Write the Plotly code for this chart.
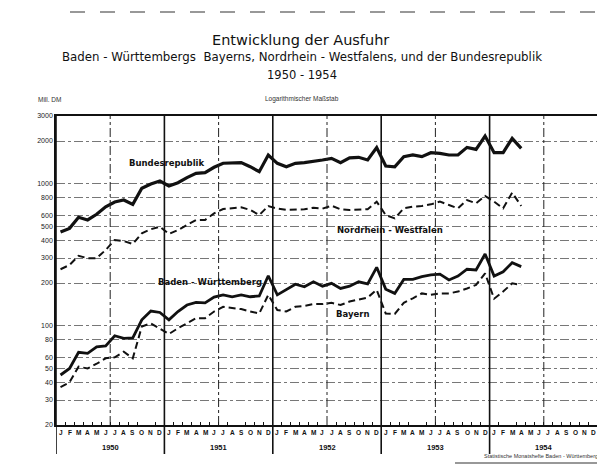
import math
import plotly.graph_objects as go

# ---------------- data (Mill. DM per month, Jan 1950 - Apr 1954) ----------------
month_letters = ["J", "F", "M", "A", "M", "J", "J", "A", "S", "O", "N", "D"]
years = ["1950", "1951", "1952", "1953", "1954"]

bundesrepublik = [457, 485, 581, 556, 610, 689, 744, 769, 716, 929, 996, 1046,
                  964, 1017, 1104, 1184, 1197, 1306, 1394, 1408, 1408, 1318, 1216, 1594,
                  1393, 1318, 1393, 1408, 1430, 1470, 1510, 1408, 1520, 1535, 1470, 1796,
                  1334, 1318, 1552, 1594, 1552, 1655, 1637, 1594, 1594, 1804, 1746, 2168,
                  1655, 1655, 2089, 1776]
nordrhein_westfalen = [250, 268, 311, 299, 299, 342, 402, 395, 376, 448, 478, 499,
                       443, 472, 512, 556, 556, 619, 664, 671, 682, 654, 602, 697,
                       668, 654, 654, 661, 678, 668, 701, 661, 654, 654, 661, 748,
                       602, 570, 671, 690, 697, 716, 748, 709, 671, 768, 728, 820,
                       748, 671, 865, 697]
baden_wuerttemberg = [45, 50, 65, 64, 71, 72, 85, 81.5, 82, 110, 127, 124,
                      110, 126, 140, 146, 145, 159, 165, 160, 165, 160, 162, 225,
                      165, 179, 196, 188, 204, 190, 199, 183, 190, 204, 197, 258,
                      181, 169, 212, 212, 222, 228, 231, 210, 224, 250, 247, 320,
                      224, 240, 278, 261]
bayern = [37, 40, 51.5, 50, 54, 59, 60, 65.6, 59, 98.7, 104, 96,
          87.5, 96, 104, 113, 113, 126, 136, 133, 131, 126, 122, 165,
          129, 126, 136, 138, 142, 142, 145, 140, 148, 153, 158, 179,
          122, 121, 145, 156, 169, 165, 169, 169, 174, 183, 194, 234,
          155, 174, 199, 194]

y_tick_values = [20, 30, 40, 50, 60, 80, 100, 200, 300, 400, 500, 600, 800, 1000, 2000, 3000]
y_tick_labels = ["20", "30", "40", "50", "60", "80", "100", "200", "300", "400", "500",
                 "600", "800", "1000", "2000", "3000"]

series_labels = ["Bundesrepublik", "Nordrhein - Westfalen", "Baden - Württemberg", "Bayern"]

# ---------------- layout geometry (page pixels; page body has an 8px margin) ----------------
W, H = 605, 466
BODY = 8
PLOT_L, PLOT_R, PLOT_T, PLOT_B = 56, 598, 116, 425
FONT = "DejaVu Sans, Liberation Sans, Arial"
SMALL = "Liberation Sans, DejaVu Sans, Arial"
PW = PLOT_R - PLOT_L
PH = PLOT_B - PLOT_T


def px(xpix):
    return (xpix - PLOT_L) / PW


def py(ypix):
    return (PLOT_B - ypix) / PH


n_months = len(years) * 12
x_vals = [i + 0.5 for i in range(len(bundesrepublik))]

fig = go.Figure()
styles = [
    (bundesrepublik, "solid", 3.2),
    (nordrhein_westfalen, "7px,4px", 2.0),
    (baden_wuerttemberg, "solid", 2.8),
    (bayern, "7px,4px", 2.0),
]
for (vals, dash, w), name in zip(styles, series_labels):
    fig.add_trace(go.Scatter(x=x_vals, y=vals, mode="lines", name=name,
                             line=dict(color="#111", width=w, dash=dash),
                             showlegend=False, hoverinfo="skip"))

shapes = []
for k in range(1, len(years)):
    shapes.append(dict(type="line", xref="x", yref="paper", x0=12 * k, x1=12 * k,
                       y0=py(454), y1=1, line=dict(color="#111", width=1.6)))
for xv in (0, n_months):
    shapes.append(dict(type="line", xref="x", yref="paper", x0=xv, x1=xv,
                       y0=py(454), y1=1, line=dict(color="#111", width=1.6)))
for k in range(len(years)):
    shapes.append(dict(type="line", xref="x", yref="paper", x0=12 * k + 6, x1=12 * k + 6,
                       y0=0, y1=1, line=dict(color="#222", width=1, dash="dashdot")))
shapes.append(dict(type="line", xref="paper", yref="paper", x0=px(70), x1=px(605),
                   y0=py(12), y1=py(12), line=dict(color="#333", width=1.2, dash="longdash")))
shapes.append(dict(type="line", xref="paper", yref="paper", x0=px(455), x1=px(605),
                   y0=py(463), y1=py(463), line=dict(color="#333", width=1.2)))

annotations = []
annotations.append(dict(text="Entwicklung der Ausfuhr", xref="paper", yref="paper",
                        x=px(300), y=py(40), yanchor="middle", showarrow=False,
                        font=dict(family=FONT, size=14.5, color="#111")))
annotations.append(dict(text="Baden - Württembergs  Bayerns, Nordrhein - Westfalens, und der Bundesrepublik",
                        xref="paper", yref="paper", x=px(302), y=py(57), yanchor="middle", showarrow=False,
                        font=dict(family=FONT, size=11.8, color="#111")))
annotations.append(dict(text="1950 - 1954", xref="paper", yref="paper",
                        x=px(302), y=py(75), yanchor="middle", showarrow=False,
                        font=dict(family=FONT, size=11.5, color="#111")))
annotations.append(dict(text="Mill. DM", xref="paper", yref="paper",
                        x=px(36), y=py(99), yanchor="middle", showarrow=False,
                        font=dict(family=SMALL, size=6.5, color="#333")))
annotations.append(dict(text="Logarithmischer Maßstab", xref="paper", yref="paper",
                        x=px(302), y=py(99), yanchor="middle", showarrow=False,
                        font=dict(family=SMALL, size=6.5, color="#333")))
annotations.append(dict(text="Statistische Monatshefte Baden - Württemberg", xref="paper", yref="paper",
                        x=px(600), y=py(456), xanchor="right", yanchor="middle", showarrow=False,
                        font=dict(family=SMALL, size=5.5, color="#333")))

for k, yr in enumerate(years):
    for j, ml in enumerate(month_letters):
        annotations.append(dict(text="<b>" + ml + "</b>", xref="x", yref="paper",
                                x=12 * k + j + 0.5, y=py(432), yanchor="middle", showarrow=False,
                                font=dict(family=SMALL, size=6.5, color="#111")))
    annotations.append(dict(text="<b>" + yr + "</b>", xref="x", yref="paper",
                            x=12 * k + 6, y=py(447), yanchor="middle", showarrow=False,
                            font=dict(family=SMALL, size=7.5, color="#111")))

label_pos = [(12.2, 1400), (37.0, 472), (17.1, 204), (32.9, 121)]
for name, (xm, v) in zip(series_labels, label_pos):
    annotations.append(dict(text="<b>" + name + "</b>", xref="x", yref="y",
                            x=xm, y=math.log10(v), showarrow=False,
                            font=dict(family=FONT, size=8.5, color="#111")))

fig.update_layout(
    width=W, height=H,
    margin=dict(l=PLOT_L - BODY, r=W - (PLOT_R - BODY), t=PLOT_T - BODY, b=H - (PLOT_B - BODY)),
    paper_bgcolor="white", plot_bgcolor="white",
    shapes=shapes, annotations=annotations,
    font=dict(family=FONT, color="#111"),
)
fig.update_xaxes(range=[0, n_months], showgrid=False, zeroline=False,
                 showticklabels=False, ticks="",
                 showline=True, linecolor="#111", linewidth=1.6, mirror=True,
                 minor=dict(ticks="inside", ticklen=3, tick0=0, dtick=1, tickcolor="#111", showgrid=False))
fig.update_yaxes(type="log", range=[math.log10(20), math.log10(3000)],
                 tickvals=y_tick_values, ticktext=y_tick_labels,
                 tickfont=dict(family=SMALL, size=7, color="#222"),
                 showgrid=True, gridcolor="#777", gridwidth=0.8, griddash="dashdot",
                 zeroline=False, ticks="",
                 showline=True, linecolor="#111", linewidth=1.6, mirror=True)

fig.write_html("out.html")
